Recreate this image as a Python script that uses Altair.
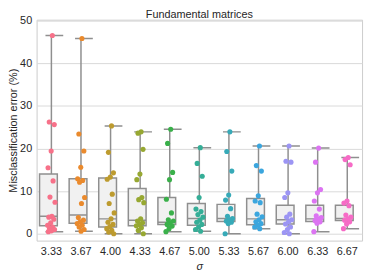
import altair as alt
import pandas as pd

sigmas = ["3.33", "3.67", "4.00", "4.33", "4.67", "5.00", "5.33", "5.67", "6.00", "6.33", "6.67"]
colors = ["#f77189", "#ea8a2d", "#bd9b2f", "#97a832", "#3ab04a", "#35ae97",
          "#37aab8", "#3ba6de", "#9c95f4", "#dc74f2", "#f66bc6"]

# box statistics
lo  = [0.5, 0.6, 0.0, 0.0, 0.5, 0.6, 0.0, 1.2, 0.0, 0.5, 1.2]
q1  = [1.9, 2.5, 1.6, 1.9, 2.2, 2.0, 2.9, 2.1, 2.3, 2.9, 3.1]
med = [4.1, 4.4, 3.5, 3.2, 2.7, 3.6, 3.6, 3.5, 3.3, 3.5, 3.6]
q3  = [14.0, 12.9, 13.1, 10.6, 8.5, 7.1, 6.9, 8.3, 6.7, 6.7, 6.7]
hi  = [46.5, 45.8, 25.3, 23.9, 24.5, 20.2, 23.9, 20.6, 20.6, 20.1, 17.9]

# individual errors (%)
pts_333 = [46.5, 26.2, 25.6, 19.4, 15.5, 12.4, 8.6, 7.4, 4.1, 3.9, 3.4, 2.6, 2.0, 1.6, 1.3, 1.0, 0.7, 0.5]
pts_367 = [45.8, 23.4, 19.4, 15.6, 12.9, 12.5, 12.1, 8.5, 7.1, 3.8, 3.2, 2.8, 2.4, 2.0, 1.6, 1.0, 0.6]
pts_400 = [25.3, 19.1, 14.3, 13.3, 12.8, 9.3, 7.1, 4.9, 3.5, 2.7, 2.2, 1.7, 1.2, 0.8, 0.4, 0.0]
pts_433 = [23.9, 23.6, 19.8, 14.0, 12.7, 8.5, 8.0, 7.3, 3.5, 3.0, 2.6, 2.2, 1.9, 1.4, 0.8, 0.0]
pts_467 = [24.5, 21.2, 14.4, 12.7, 8.1, 4.9, 3.3, 3.0, 2.6, 2.2, 1.8, 1.2, 0.5]
pts_500 = [20.2, 16.5, 13.5, 8.5, 5.8, 5.2, 4.5, 3.9, 3.2, 2.7, 2.2, 1.6, 1.0, 0.6]
pts_533 = [23.9, 19.3, 14.7, 9.1, 7.9, 5.9, 4.1, 3.6, 3.3, 3.0, 2.7, 2.4, 0.0]
pts_567 = [20.6, 16.0, 14.7, 8.9, 7.7, 7.3, 4.6, 4.0, 3.3, 2.8, 2.4, 2.0, 1.6, 1.2]
pts_600 = [20.6, 17.0, 16.8, 9.6, 8.5, 4.6, 3.9, 3.3, 2.8, 2.3, 1.6, 1.0, 0.3, 0.0]
pts_633 = [20.1, 16.8, 10.4, 9.6, 7.7, 5.8, 4.2, 3.8, 3.4, 3.1, 2.8, 2.5, 0.5]
pts_667 = [17.9, 17.4, 16.2, 7.7, 7.2, 6.6, 4.4, 3.9, 3.5, 3.2, 2.8, 2.3, 1.2]

all_pts = [pts_333, pts_367, pts_400, pts_433, pts_467, pts_500,
           pts_533, pts_567, pts_600, pts_633, pts_667]

box_df = pd.DataFrame({"sigma": sigmas, "lo": lo, "q1": q1, "med": med, "q3": q3, "hi": hi})
pts_df = pd.DataFrame(
    [{"sigma": s, "err": v} for s, vals in zip(sigmas, all_pts) for v in vals]
)

FONT = "Liberation Sans"
GREY = "#8f8f8f"

x_enc = alt.X("sigma:N", sort=sigmas,
              scale=alt.Scale(paddingInner=0, paddingOuter=0),
              axis=alt.Axis(title="σ", labelAngle=0, ticks=False, domain=False,
                            labelPadding=5, titleFontStyle="italic",
                            titlePadding=4))
y_scale = alt.Scale(domain=[-1.6, 50.2], nice=False, zero=False)
y_axis = alt.Axis(title="Misclassification error (%)", values=[0, 10, 20, 30, 40, 50],
                  ticks=False, domain=False, labelPadding=5,
                  titleX=-23, titleY=112, titleAngle=270,
                  titleAlign="center", titleBaseline="middle",
                  gridColor="#d9d9d9")

base = alt.Chart(box_df)

whisk = base.mark_rule(color=GREY, strokeWidth=1.5).encode(
    x=x_enc, y=alt.Y("lo:Q", scale=y_scale, axis=y_axis), y2="hi:Q")
box = base.mark_bar(fill="#f1f1f1", stroke=GREY, strokeWidth=1.5,
                    width=alt.RelativeBandSize(0.8)).encode(
    x=x_enc, y=alt.Y("q1:Q", scale=y_scale), y2="q3:Q")
median = base.mark_bar(fill=GREY, stroke=GREY, strokeWidth=1.5,
                       width=alt.RelativeBandSize(0.8)).encode(
    x=x_enc, y=alt.Y("med:Q", scale=y_scale), y2="med:Q")
cap_hi = base.mark_bar(fill=GREY, stroke=GREY, strokeWidth=1.5,
                       width=alt.RelativeBandSize(0.4)).encode(
    x=x_enc, y=alt.Y("hi:Q", scale=y_scale), y2="hi:Q")
cap_lo = base.mark_bar(fill=GREY, stroke=GREY, strokeWidth=1.5,
                       width=alt.RelativeBandSize(0.4)).encode(
    x=x_enc, y=alt.Y("lo:Q", scale=y_scale), y2="lo:Q")

points = alt.Chart(pts_df).transform_window(
    rn="row_number()", groupby=["sigma"]
).transform_calculate(
    jit="((datum.rn * 0.618) % 1 - 0.5) * 0.55"
).mark_circle(size=27, opacity=1).encode(
    x=x_enc,
    xOffset=alt.XOffset("jit:Q", scale=alt.Scale(domain=[-1, 1])),
    y=alt.Y("err:Q", scale=y_scale),
    color=alt.Color("sigma:N", sort=sigmas,
                    scale=alt.Scale(domain=sigmas, range=colors), legend=None),
)

chart = alt.layer(whisk, box, median, cap_hi, cap_lo, points).properties(
    width=330, height=224,
    title=alt.TitleParams("Fundamental matrices", fontSize=11, font=FONT,
                          fontWeight="normal", color="#262626", offset=2,
                          frame="group", dy=7),
    autosize=alt.AutoSizeParams(type="none"),
    padding={"left": 29, "top": 10, "right": 4, "bottom": 34},
).configure_view(
    stroke="#cccccc", strokeWidth=1
).configure_axis(
    labelFont=FONT, titleFont=FONT, labelFontSize=11, titleFontSize=11,
    labelColor="#262626", titleColor="#262626", titleFontWeight="normal",
)

chart.save("out.html", embed_options={"renderer": "svg", "actions": False})
